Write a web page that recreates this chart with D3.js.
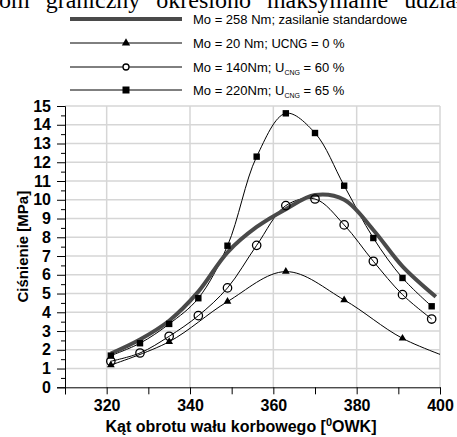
<!DOCTYPE html>
<html><head><meta charset="utf-8">
<script src="https://cdn.jsdelivr.net/npm/d3@7"></script>
<style>body{margin:0;background:#fff}svg{display:block}</style>
</head><body>
<script>
const xTicksMajor = [320, 340, 360, 380, 400];
const xTicksMinor = [310, 320, 330, 340, 350, 360, 370, 380, 390, 400];
const yTicks = [0,1,2,3,4,5,6,7,8,9,10,11,12,13,14,15];

const stdX = [321,328,335,342,349,356,363,370,377,384,391,399];
const stdY = [1.8,2.55,3.55,5.1,7.2,8.55,9.5,10.25,10.0,8.39,6.45,4.83];

const triX = [321,335,349,363,377,391,405];
const triY = [1.19,2.43,4.57,6.17,4.66,2.61,1.35];

const cirX = [321,328,335,342,349,356,363,370,377,384,391,398];
const cirY = [1.39,1.83,2.72,3.82,5.3,7.57,9.69,10.04,8.66,6.72,4.94,3.64];

const sqX = [321,328,335,342,349,356,363,370,377,384,391,398];
const sqY = [1.69,2.35,3.38,4.75,7.55,12.3,14.61,13.56,10.75,7.96,5.83,4.32];

const W = 457, H = 437;
const L = 65, R = 440, T = 106, B = 387.3;
const svg = d3.select("body").append("svg").attr("width", W).attr("height", H);

const x = d3.scaleLinear().domain([310, 400]).range([L, R]);
const y = d3.scaleLinear().domain([0, 15]).range([B, T]);

// top cut-off text (justified line of the surrounding page)
svg.append("text").attr("x", -1).attr("y", 8)
  .attr("font-family", "Liberation Serif, Times New Roman, serif").attr("font-size", 24)
  .attr("word-spacing", 10)
  .text("om graniczny określono maksymalne udział");

// gridlines
const g = svg.append("g");
g.selectAll("line.h").data(yTicks.filter(d => d > 0)).join("line")
  .attr("x1", L).attr("x2", R).attr("y1", d => y(d)).attr("y2", d => y(d))
  .attr("stroke", "#d6d6d6").attr("stroke-width", 1.5);
g.selectAll("line.v").data(xTicksMajor).join("line")
  .attr("y1", T).attr("y2", B).attr("x1", d => x(d)).attr("x2", d => x(d))
  .attr("stroke", "#d6d6d6").attr("stroke-width", 1.5);

// axes
const yAxis = d3.axisLeft(y).tickValues(yTicks).tickSize(8).tickPadding(6);
const ya = svg.append("g").attr("transform", `translate(${L},0)`).call(yAxis);
ya.select(".domain").attr("stroke", "#000");
ya.selectAll("text").attr("font-family", "Liberation Sans, Arial, sans-serif")
  .attr("font-weight", "bold").attr("font-size", 16).attr("fill", "#000");
const yMinor = d3.axisLeft(y).tickValues(d3.range(0.5, 15, 1)).tickSize(4).tickFormat("");
const ym = svg.append("g").attr("transform", `translate(${L},0)`).call(yMinor);
ym.select(".domain").remove();

const xAxis = d3.axisBottom(x).tickValues(xTicksMinor).tickSize(7).tickPadding(5)
  .tickFormat(d => xTicksMajor.includes(d) ? d : "");
const xa = svg.append("g").attr("transform", `translate(0,${B})`).call(xAxis);
xa.select(".domain").attr("stroke", "#000");
xa.selectAll("text").attr("font-family", "Liberation Sans, Arial, sans-serif")
  .attr("font-weight", "bold").attr("font-size", 16).attr("fill", "#000");

// axis titles
const xt = svg.append("text").attr("x", 241).attr("y", 432).attr("text-anchor", "middle")
  .attr("font-family", "Liberation Sans, Arial, sans-serif").attr("font-weight", "bold").attr("font-size", 16);
xt.append("tspan").text("Kąt obrotu wału korbowego [");
xt.append("tspan").attr("dy", -6).attr("font-size", 11).text("0");
xt.append("tspan").attr("dy", 6).text("OWK]");

svg.append("text").attr("transform", `translate(28,${(T + B) / 2}) rotate(-90)`).attr("text-anchor", "middle")
  .attr("font-family", "Liberation Sans, Arial, sans-serif").attr("font-weight", "bold").attr("font-size", 15)
  .text("Ciśnienie [MPa]");

// clip
svg.append("clipPath").attr("id", "clip").append("rect")
  .attr("x", L).attr("y", T - 10).attr("width", R - L).attr("height", B - T + 10);

const line = d3.line().x(d => x(d[0])).y(d => y(d[1])).curve(d3.curveCatmullRom.alpha(0.5));
const plot = svg.append("g").attr("clip-path", "url(#clip)");

plot.append("path").datum(d3.zip(triX, triY)).attr("d", line).attr("fill", "none").attr("stroke", "#000").attr("stroke-width", 1);
plot.append("path").datum(d3.zip(cirX, cirY)).attr("d", line).attr("fill", "none").attr("stroke", "#000").attr("stroke-width", 1);
plot.append("path").datum(d3.zip(sqX, sqY)).attr("d", line).attr("fill", "none").attr("stroke", "#000").attr("stroke-width", 1);
plot.append("path").datum(d3.zip(stdX, stdY)).attr("d", line).attr("fill", "none").attr("stroke", "#4a4a4a").attr("stroke-width", 4);

const tri = d3.symbol().type(d3.symbolTriangle).size(26);
plot.selectAll("path.tri").data(d3.zip(triX, triY).filter(d => d[0] <= 400)).join("path")
  .attr("d", tri).attr("transform", d => `translate(${x(d[0])},${y(d[1])})`).attr("fill", "#000");
plot.selectAll("circle.c").data(d3.zip(cirX, cirY)).join("circle")
  .attr("cx", d => x(d[0])).attr("cy", d => y(d[1])).attr("r", 4.2)
  .attr("fill", "none").attr("stroke", "#000").attr("stroke-width", 1.3);
plot.selectAll("rect.s").data(d3.zip(sqX, sqY)).join("rect")
  .attr("x", d => x(d[0]) - 3.2).attr("y", d => y(d[1]) - 3.2).attr("width", 6.4).attr("height", 6.4).attr("fill", "#000");

// legend
const lg = svg.append("g").attr("font-family", "Liberation Sans, Arial, sans-serif").attr("font-size", 13);
const rows = [19, 43, 67, 90];
lg.append("line").attr("x1", 70).attr("x2", 182).attr("y1", rows[0]).attr("y2", rows[0]).attr("stroke", "#4a4a4a").attr("stroke-width", 4);
for (let i = 1; i < 4; i++) lg.append("line").attr("x1", 70).attr("x2", 182).attr("y1", rows[i]).attr("y2", rows[i]).attr("stroke", "#000");
lg.append("path").attr("d", d3.symbol().type(d3.symbolTriangle).size(30)).attr("transform", `translate(126,${rows[1]})`);
lg.append("circle").attr("cx", 126).attr("cy", rows[2]).attr("r", 3).attr("fill", "#fff").attr("stroke", "#000").attr("stroke-width", 1.3);
lg.append("rect").attr("x", 122.5).attr("y", rows[3] - 3.5).attr("width", 7).attr("height", 7);

lg.append("text").attr("x", 193).attr("y", rows[0] + 5).text("Mo = 258 Nm; zasilanie standardowe");
const t2 = lg.append("text").attr("x", 193).attr("y", rows[1] + 5);
t2.append("tspan").text("Mo = 20 Nm; U");
t2.append("tspan").attr("font-size", 12).text("CNG");
t2.append("tspan").text(" = 0 %");
const t3 = lg.append("text").attr("x", 193).attr("y", rows[2] + 5);
t3.append("tspan").text("Mo = 140Nm; U");
t3.append("tspan").attr("font-size", 7).attr("dy", 3).text("CNG");
t3.append("tspan").attr("dy", -3).text(" = 60 %");
const t4 = lg.append("text").attr("x", 193).attr("y", rows[3] + 5);
t4.append("tspan").text("Mo = 220Nm; U");
t4.append("tspan").attr("font-size", 7).attr("dy", 3).text("CNG");
t4.append("tspan").attr("dy", -3).text(" = 65 %");
</script>
</body></html>
